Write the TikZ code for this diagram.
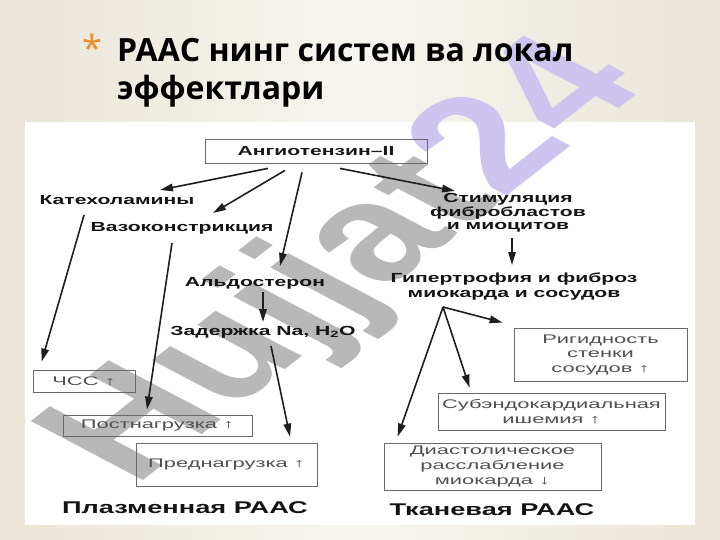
\documentclass[tikz,border=0pt]{standalone}
\usepackage{fontspec}
\setmainfont{Open Sans}
\newfontfamily\df[FakeStretch=1.6]{Liberation Sans}
\newfontfamily\dfb[FakeStretch=1.75]{Liberation Sans}
\newfontfamily\wm{Liberation Sans}
\usetikzlibrary{arrows.meta,calc}
\definecolor{bgA}{RGB}{234,229,214}
\definecolor{bgB}{RGB}{247,245,240}
\definecolor{ast}{RGB}{232,140,48}
\definecolor{wmgrey}{RGB}{184,184,184}
\definecolor{wmlav}{RGB}{206,196,240}
\definecolor{boxtxt}{RGB}{80,80,80}
\definecolor{boxline}{RGB}{105,105,105}
\definecolor{arr}{RGB}{30,30,30}
\tikzset{
  lbl/.style={font=\df\bfseries\fontsize{13.2}{14}\selectfont, align=center, inner sep=0pt, text=black!92},
  bx/.style={draw=boxline, line width=0.8pt, font=\dfb\fontsize{12.5}{14.5}\selectfont, text=boxtxt, align=center, inner sep=0pt},
  arw/.style={draw=arr, line width=1.6pt, -{Triangle[length=13pt,width=7.5pt]}},
  big/.style={font=\df\bfseries\fontsize{17}{18}\selectfont, inner sep=0pt, text=black!92}
}
\begin{document}
\begin{tikzpicture}[x=1pt,y=-1pt]
\useasboundingbox (0,0) rectangle (720,540);
% background
\shade[left color=bgA, right color=bgA, middle color=bgB] (0,0) rectangle (720,540);
% white panel
\fill[white] (25,122) rectangle (695,525);
% watermark
\node[rotate=38, xslant=-0.45, anchor=base, inner sep=0pt, font=\wm\bfseries\fontsize{168}{168}\selectfont] (wmk) at (392,286) {\textcolor{wmgrey}{Hujjat}\textcolor{wmlav}{24}};
% title
\node[anchor=base, text=ast, font=\fontsize{36}{36}\selectfont, inner sep=0pt] (astx) at (92,62) {*};
\node[anchor=base west, font=\bfseries\fontsize{32}{32}\selectfont, inner sep=0pt] (t1) at (117,62) {РААС нинг систем ва локал};
\node[anchor=base west, font=\bfseries\fontsize{32}{32}\selectfont, inner sep=0pt] (t2) at (117,100) {эффектлари};
% nodes
\node[bx, font=\df\bfseries\fontsize{13.2}{14}\selectfont, text=black!90, minimum width=222pt, minimum height=24pt] (ang) at (316,151) {Ангиотензин–II};
\node[lbl] (kat) at (117,200) {Катехоламины};
\node[lbl] (vaz) at (182,228) {Вазоконстрикция};
\node[lbl] (ald) at (255,283) {Альдостерон};
\node[lbl] (zad) at (263,332) {Задержка Na, H\textsubscript{2}O};
\node[lbl, font=\df\bfseries\fontsize{13.2}{13.5}\selectfont] (stim) at (508,213) {Стимуляция\\фибробластов\\и миоцитов};
\node[lbl, font=\df\bfseries\fontsize{13.2}{15}\selectfont] (gip) at (514,287) {Гипертрофия и фиброз\\миокарда и сосудов};
\node[bx, minimum width=173pt, minimum height=53pt] (rig) at (600.5,354.5) {Ригидность\\стенки\\сосудов ↑};
\node[bx, minimum width=227pt, minimum height=37pt] (sub) at (551.5,411.5) {Субэндокардиальная\\ишемия ↑};
\node[bx, font=\dfb\fontsize{12.5}{15}\selectfont, minimum width=217pt, minimum height=47pt] (dia) at (492.5,466.5) {Диастолическое\\расслабление\\миокарда ↓};
\node[bx, minimum width=102pt, minimum height=22pt] (chss) at (84,381) {ЧСС ↑};
\node[bx, minimum width=189pt, minimum height=21pt] (post) at (157.5,425.5) {Постнагрузка ↑};
\node[bx, minimum width=181pt, minimum height=43pt] (pred) at (226.5,464.5) {Преднагрузка ↑};
\node[big] (plas) at (185,508) {Плазменная РААС};
\node[big] (tkan) at (492,510) {Тканевая РААС};
% arrows
\draw[arw] ($(ang.south)+(-48,5)$) -- ($(kat)+(43,-10)$);
\draw[arw] ($(ang.south)+(-31,7)$) -- ($(vaz)+(31,-15)$);
\draw[arw] ($(ang.south)+(-14,9)$) -- ($(ald)+(25,-17)$);
\draw[arw] ($(ang.south)+(24,5)$) -- ($(stim)+(-53,-22)$);
\draw[arw] ($(kat)+(-33,15)$) -- ($(chss.north west)+(9,-8)$);
\draw[arw] ($(vaz)+(-10,15)$) -- ($(post.north)+(-10.5,-5)$);
\draw[arw] ($(ald)+(8,9)$) -- ($(ald)+(8,39)$);
\draw[arw] ($(zad)+(8,14)$) -- ($(pred.north)+(63.5,-6)$);
\draw[arw] ($(stim)+(4,25)$) -- ($(stim)+(4,52)$);
\coordinate (gs) at ($(gip)+(-71,20)$);
\draw[arw] (gs) -- ($(rig.north west)+(-11,-5)$);
\draw[arw] (gs) -- ($(sub.north west)+(32,-5)$);
\draw[arw] (gs) -- ($(dia.north west)+(14,-6)$);
\end{tikzpicture}
\end{document}
